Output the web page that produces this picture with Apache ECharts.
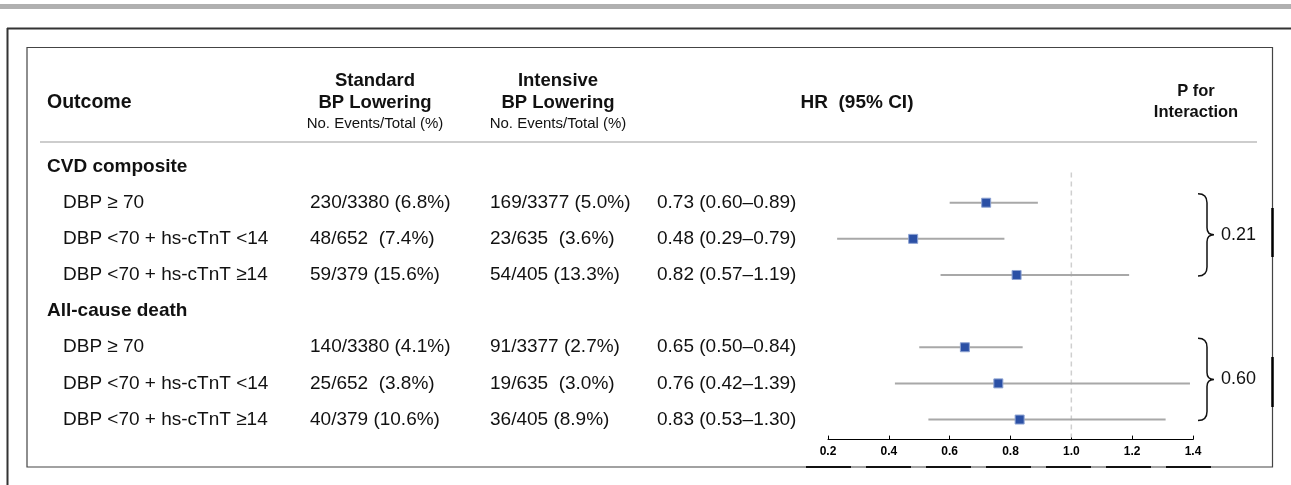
<!DOCTYPE html>
<html><head><meta charset="utf-8">
<script src="https://cdn.jsdelivr.net/npm/echarts@6/dist/echarts.min.js"></script>
<style>html,body{margin:0;padding:0;background:#fff}#c{width:1291px;height:485px}</style>
</head><body><div id="c"></div>
<script>
// ---------------- data ----------------
const groupNames = ['CVD composite', 'All-cause death'];
const subgroupNames = ['DBP ≥ 70', 'DBP <70 + hs-cTnT <14', 'DBP <70 + hs-cTnT ≥14'];
const standardEvents = ['230/3380 (6.8%)', '48/652  (7.4%)', '59/379 (15.6%)', '140/3380 (4.1%)', '25/652  (3.8%)', '40/379 (10.6%)'];
const intensiveEvents = ['169/3377 (5.0%)', '23/635  (3.6%)', '54/405 (13.3%)', '91/3377 (2.7%)', '19/635  (3.0%)', '36/405 (8.9%)'];
const hrText = ['0.73 (0.60–0.89)', '0.48 (0.29–0.79)', '0.82 (0.57–1.19)', '0.65 (0.50–0.84)', '0.76 (0.42–1.39)', '0.83 (0.53–1.30)'];
const hrPoint = [0.72, 0.48, 0.82, 0.65, 0.76, 0.83];
const ciLow = [0.60, 0.23, 0.57, 0.50, 0.42, 0.53];
const ciHigh = [0.89, 0.78, 1.19, 0.84, 1.39, 1.31];
const pInteraction = ['0.21', '0.60'];
const xMin = 0.2, xMax = 1.4, xStep = 0.2;
const refValue = 1.0;

// ---------------- build ----------------
const FONT = "'Liberation Sans', Arial, Helvetica, sans-serif";
const rows = [];
const groupSpans = [];
groupNames.forEach((g, gi) => {
  rows.push({ type: 'group', label: g });
  const start = rows.length;
  subgroupNames.forEach((s, si) => {
    rows.push({ type: 'sub', label: s, k: gi * subgroupNames.length + si });
  });
  groupSpans.push([start, rows.length - 1, gi]);
});
const categories = rows.map((r, i) => 'row' + i);
const forestData = [];
rows.forEach((r, i) => { if (r.type === 'sub') forestData.push([hrPoint[r.k], ciLow[r.k], ciHigh[r.k], i]); });

function txt(text, x, y, size, weight, align) {
  return { type: 'text', style: { text: text, x: x, y: y, fill: '#111', fontSize: size, fontWeight: weight || 'normal', fontFamily: FONT, align: align || 'left', verticalAlign: 'middle' } };
}

const COL = { group: 47, sub: 63, std: 310, int: 490, hr: 657 };

const chart = echarts.init(document.getElementById('c'), null, { renderer: 'canvas' });

const option = {
  backgroundColor: '#fff',
  animation: false,
  grid: { left: 828, width: 365, top: 148.5, height: 289.1, containLabel: false },
  xAxis: {
    type: 'value', min: xMin, max: xMax, interval: xStep, offset: 2,
    splitLine: { show: false },
    axisLine: { show: true, lineStyle: { color: '#000', width: 1 } },
    axisTick: { show: true, inside: true, length: 4, lineStyle: { color: '#000', width: 1 } },
    axisLabel: { color: '#000', fontFamily: FONT, fontWeight: 'bold', fontSize: 12, margin: 6, formatter: v => v.toFixed(1) }
  },
  yAxis: {
    type: 'category', data: categories, inverse: true, show: false
  },
  series: [
    {
      type: 'custom', name: 'ref', z: 1,
      data: [[refValue, 0]],
      encode: { x: 0, y: 1 },
      renderItem: function (params, api) {
        const p = api.coord([api.value(0), api.value(1)]);
        const bottom = params.coordSys.y + params.coordSys.height;
        return { type: 'line', shape: { x1: p[0], y1: p[1] + 6, x2: p[0], y2: bottom }, style: { stroke: '#cfcfcf', lineWidth: 1.5, lineDash: [5, 4] } };
      }
    },
    {
      type: 'custom', name: 'table', z: 2,
      data: rows.map((r, i) => [xMin, i]),
      encode: { x: 0, y: 1 },
      renderItem: function (params, api) {
        const i = api.value(1);
        const y = api.coord([xMin, i])[1];
        const r = rows[i];
        if (r.type === 'group') return { type: 'group', children: [txt(r.label, COL.group, y, 19, 'bold')] };
        return { type: 'group', children: [
          txt(r.label, COL.sub, y, 19),
          txt(standardEvents[r.k], COL.std, y, 19),
          txt(intensiveEvents[r.k], COL.int, y, 19),
          txt(hrText[r.k], COL.hr, y, 19)
        ] };
      }
    },
    {
      type: 'custom', name: 'forest', z: 3,
      data: forestData,
      encode: { x: [0, 1, 2], y: 3 },
      renderItem: function (params, api) {
        const row = api.value(3);
        const c = api.coord([api.value(0), row]);
        const lo = api.coord([api.value(1), row]);
        const hi = api.coord([api.value(2), row]);
        const s = 9;
        return { type: 'group', children: [
          { type: 'line', shape: { x1: lo[0], y1: c[1], x2: hi[0], y2: c[1] }, style: { stroke: '#a8a8a8', lineWidth: 2 } },
          { type: 'rect', shape: { x: c[0] - s / 2, y: c[1] - s / 2, width: s, height: s }, style: { fill: '#2b50a5', stroke: '#8ea3d2', lineWidth: 1 } }
        ] };
      }
    },
    {
      type: 'custom', name: 'brace', z: 3,
      data: groupSpans.map(g => [xMax, g[0], g[1], g[2]]),
      encode: { x: 0, y: [1, 2] },
      renderItem: function (params, api) {
        const top = api.coord([xMax, api.value(1)])[1] - 9;
        const bot = api.coord([xMax, api.value(2)])[1] + 1;
        const mid = (top + bot) / 2;
        const x0 = 1198, x1 = 1207, x2 = 1214;
        const d = 'M' + x0 + ' ' + top + ' Q' + x1 + ' ' + top + ' ' + x1 + ' ' + (top + 9) +
          ' L' + x1 + ' ' + (mid - 7) + ' Q' + x1 + ' ' + mid + ' ' + x2 + ' ' + mid +
          ' Q' + x1 + ' ' + mid + ' ' + x1 + ' ' + (mid + 7) +
          ' L' + x1 + ' ' + (bot - 9) + ' Q' + x1 + ' ' + bot + ' ' + x0 + ' ' + bot;
        return { type: 'group', children: [
          { type: 'path', shape: { pathData: d }, style: { fill: null, stroke: '#111', lineWidth: 1.5 } },
          txt(pInteraction[api.value(3)], 1221, mid, 18)
        ] };
      }
    }
  ],
  graphic: [
    { type: 'rect', shape: { x: 0, y: 4, width: 1291, height: 5 }, style: { fill: '#b0b0b0' } },
    { type: 'line', shape: { x1: 7, y1: 28.5, x2: 1291, y2: 28.5 }, style: { stroke: '#333', lineWidth: 2 } },
    { type: 'line', shape: { x1: 7.5, y1: 28, x2: 7.5, y2: 485 }, style: { stroke: '#333', lineWidth: 2 } },
    { type: 'rect', shape: { x: 27, y: 47.5, width: 1245.5, height: 419.5 }, style: { fill: null, stroke: '#444', lineWidth: 1.2 } },
    { type: 'line', shape: { x1: 1272.5, y1: 208, x2: 1272.5, y2: 257 }, style: { stroke: '#000', lineWidth: 2.5 } },
    { type: 'line', shape: { x1: 1272.5, y1: 357, x2: 1272.5, y2: 407 }, style: { stroke: '#000', lineWidth: 2.5 } },
    { type: 'line', shape: { x1: 806, y1: 467, x2: 1215, y2: 467 }, style: { stroke: '#111', lineWidth: 2, lineDash: [45, 15] } },
    { type: 'line', shape: { x1: 40, y1: 142, x2: 1257, y2: 142 }, style: { stroke: '#bdbdbd', lineWidth: 1.5 } },
    txt('Outcome', 47, 103, 19.5, 'bold'),
    txt('Standard', 375, 81, 18.5, 'bold', 'center'),
    txt('BP Lowering', 375, 103, 18.5, 'bold', 'center'),
    txt('No. Events/Total (%)', 375, 124, 15, 'normal', 'center'),
    txt('Intensive', 558, 81, 18.5, 'bold', 'center'),
    txt('BP Lowering', 558, 103, 18.5, 'bold', 'center'),
    txt('No. Events/Total (%)', 558, 124, 15, 'normal', 'center'),
    txt('HR  (95% CI)', 857, 103, 19, 'bold', 'center'),
    txt('P for', 1196, 91, 16.5, 'bold', 'center'),
    txt('Interaction', 1196, 112, 16.5, 'bold', 'center')
  ]
};
chart.setOption(option);
</script>
</body></html>
